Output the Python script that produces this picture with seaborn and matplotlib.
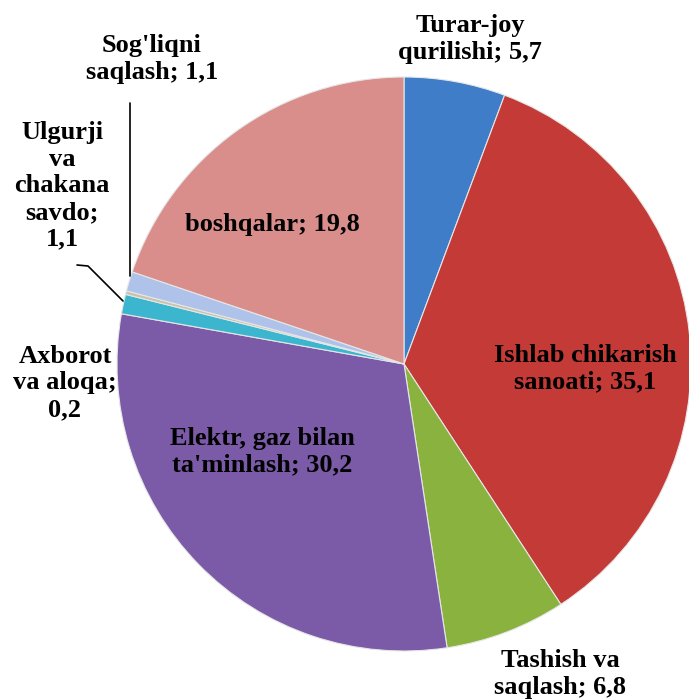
import numpy as np
import matplotlib
matplotlib.use("Agg")
import matplotlib.pyplot as plt
import seaborn as sns

categories = [
    "Turar-joy\nqurilishi",
    "Ishlab chikarish\nsanoati",
    "Tashish va\nsaqlash",
    "Elektr, gaz bilan\nta'minlash",
    "Ulgurji\nva\nchakana\nsavdo",
    "Axborot\nva aloqa",
    "Sog'liqni\nsaqlash",
    "boshqalar",
]
values = [5.7, 35.1, 6.8, 30.2, 1.1, 0.2, 1.1, 19.8]
colors = ["#3f7dc8", "#c33a36", "#8ab23f", "#7b5ba7",
          "#3cb6cf", "#c9c2ac", "#afc3ea", "#d98e8c"]

# label placement in pixels (x, y from top-left), one per slice
label_px = [(470, 39), (585, 369), (560, 674), (262, 452),
            (62, 186), (65, 383), (152, 59), (272, 225)]
sep = ["; ", "; ", "; ", "; ", ";\n", ";\n", "; ", "; "]

W, H = 689, 699
cx, cy, R = 404, 364, 287

sns.set_theme(style="white")
pal = sns.color_palette(colors)
plt.rcParams["font.family"] = ["Liberation Serif", "DejaVu Serif"]

fig = plt.figure(figsize=(W / 100, H / 100), dpi=100)
ax = fig.add_axes([0, 0, 1, 1])
wedges, _ = ax.pie(
    values,
    colors=pal,
    startangle=90,
    counterclock=False,
    radius=1,
    wedgeprops=dict(edgecolor="#e6e6e6", linewidth=0.8),
)
ax.set_xlim(-cx / R, (W - cx) / R)
ax.set_ylim(-(H - cy) / R, cy / R)
ax.set_aspect("equal", adjustable="box")
ax.axis("off")


def px(x, y):
    return (x - cx) / R, (cy - y) / R


for cat, v, s, (x, y) in zip(categories, values, sep, label_px):
    txt = cat + s + "{:.1f}".format(v).replace(".", ",")
    ax.text(*px(x, y), txt, ha="center", va="center", fontsize=19,
            fontweight="bold", linespacing=1.2, color="black")

# leader lines
x0, y0 = px(130, 103)
x1, y1 = px(130, 276)
ax.plot([x0, x1], [y0, y1], color="black", lw=1.2)
pts = [px(77, 265), px(88, 266), px(123, 301)]
ax.plot([p[0] for p in pts], [p[1] for p in pts], color="black", lw=1.2)

fig.savefig("out.png", dpi=100, facecolor="white")
